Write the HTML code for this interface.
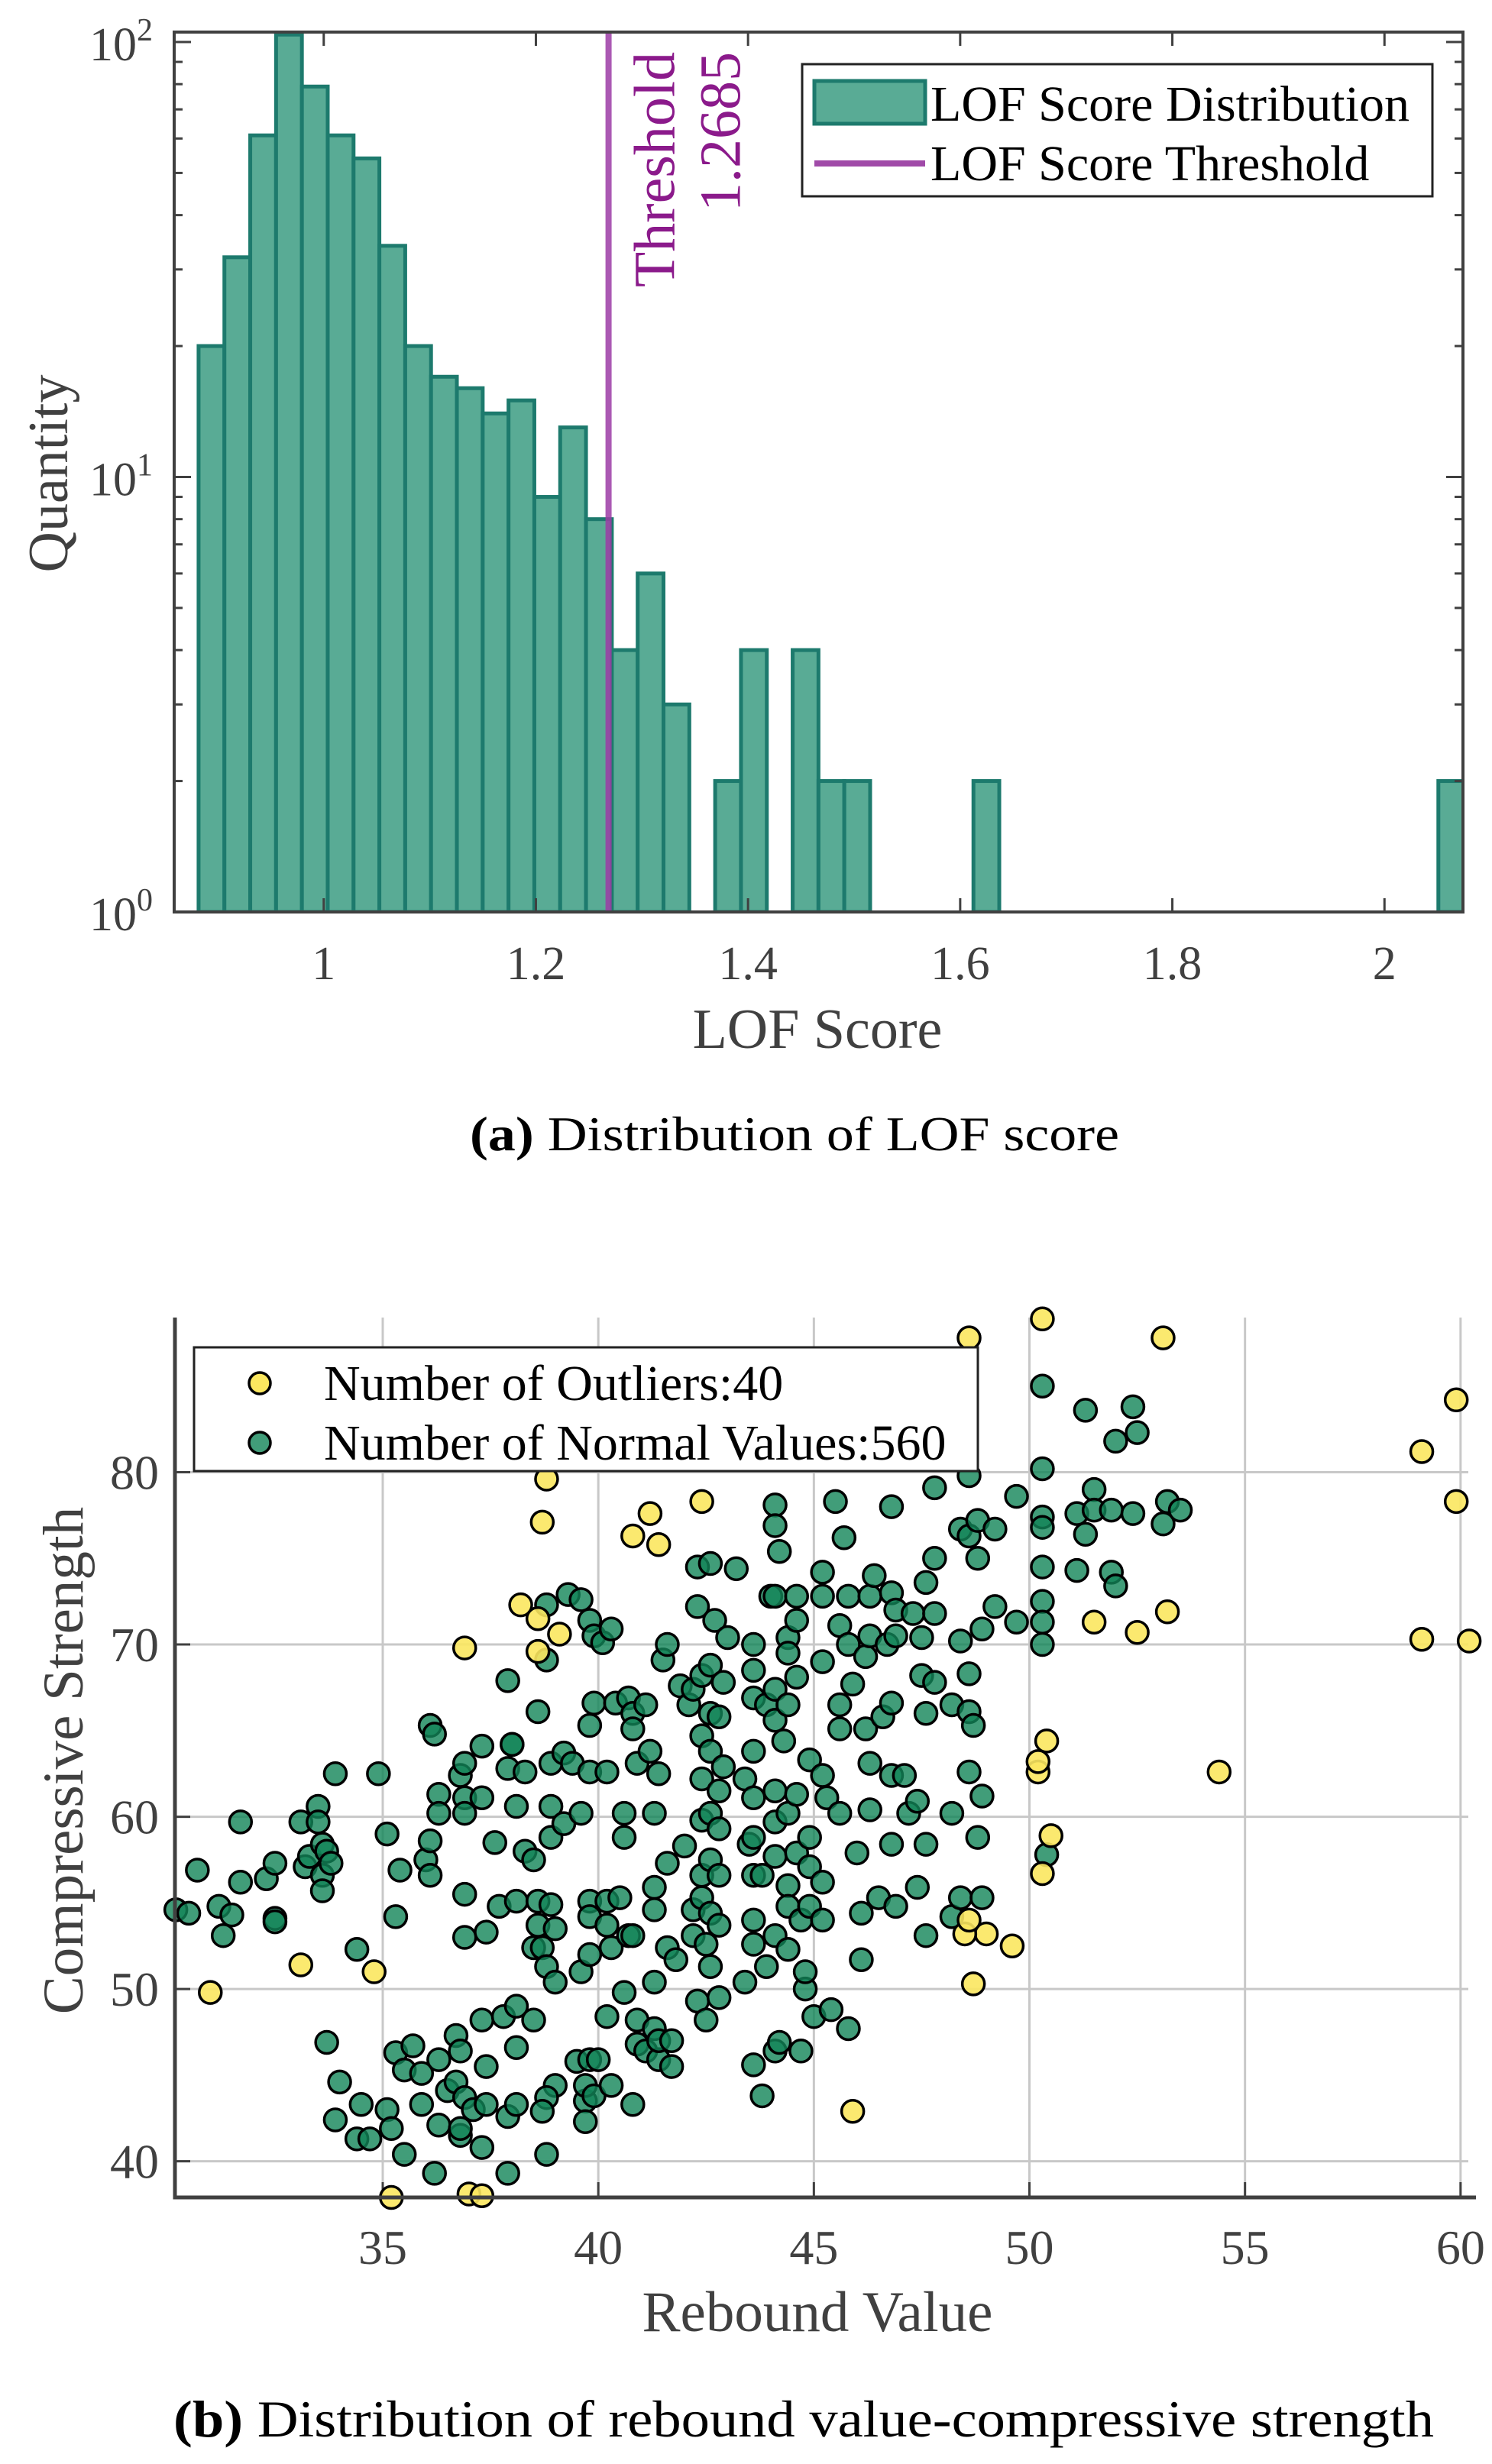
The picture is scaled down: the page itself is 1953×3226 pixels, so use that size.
<!DOCTYPE html>
<html><head><meta charset="utf-8">
<style>
html,body{margin:0;padding:0;background:#fff;}
svg{display:block;font-family:"Liberation Serif",serif;}
</style></head>
<body>
<svg id="root" width="1953" height="3226" viewBox="0 0 1953 3226" xmlns="http://www.w3.org/2000/svg">
  <g id="chartA"></g>
  <text x="1040" y="1506" font-size="64" text-anchor="middle" fill="#000" textLength="850" lengthAdjust="spacingAndGlyphs"><tspan font-weight="bold">(a)</tspan> Distribution of LOF score</text>
  <g id="chartB"></g>
  <text x="1052" y="3190" font-size="68" text-anchor="middle" fill="#000" textLength="1650" lengthAdjust="spacingAndGlyphs"><tspan font-weight="bold">(b)</tspan> Distribution of rebound value-compressive strength</text>
</svg>
<script>
// ---------- Chart A data ----------
const binStart = 0.882;
const binWidth = 0.02435;
const binCounts = [20,32,61,104,79,61,54,34,20,17,16,14,15,9,13,8,4,6,3,1,2,4,0,4,2,2,1,1,0,0,2,1,1,0,0,0,0,0,0,0,0,0,0,0,1,0,0,0,2];
const thresholdValue = 1.2685;
const xTicksA = [1,1.2,1.4,1.6,1.8,2];
const xTickLabelsA = ["1","1.2","1.4","1.6","1.8","2"];
const yDecadesA = [0,1,2];

// ---------- Chart B data ----------
const outlierX = [50.3,48.6,53.1,59.9,59.1,59.9,59.1,60.2,38.8,38.7,42.4,41.2,40.8,41.4,38.2,38.6,39.1,38.6,36.9,51.5,52.5,53.2,54.4,50.2,50.2,50.4,50.5,50.3,49.0,49.6,48.7,48.5,33.1,34.8,31.0,45.9,35.2,37.0,37.3,48.6];
const outlierY = [88.9,87.8,87.8,84.2,81.2,78.3,70.3,70.2,79.6,77.1,78.3,77.6,76.3,75.8,72.3,71.5,70.6,69.6,69.8,71.3,70.7,71.9,62.6,62.6,63.2,64.4,58.9,56.7,53.2,52.5,50.3,53.2,51.4,51.0,49.8,42.9,37.9,38.1,38.0,54.0];
const normalX = [30.2,30.5,30.7,31.2,31.3,31.5,31.7,31.7,32.3,32.5,32.5,32.5,33.1,33.2,33.3,33.5,33.5,33.6,33.7,33.6,33.6,33.8,33.9,33.7,34.0,34.4,33.9,34.5,34.4,34.7,34.9,35.1,35.3,35.4,35.1,35.2,35.3,35.5,35.5,35.7,35.9,35.9,36.1,36.2,36.0,36.1,36.1,36.3,36.3,36.3,36.3,36.2,36.5,36.7,36.8,36.9,36.9,36.9,36.9,36.9,36.7,36.8,36.9,36.8,36.8,37.1,37.3,37.3,37.3,37.4,37.4,37.4,37.3,37.6,37.7,37.8,37.9,38.0,37.9,37.9,37.9,38.0,38.1,38.1,38.1,38.1,38.1,38.3,38.3,38.5,38.5,38.5,38.6,38.6,38.6,38.7,38.8,38.8,38.8,38.8,38.9,38.9,38.9,38.9,39.0,39.0,39.0,38.8,38.7,39.2,39.2,39.3,39.4,39.6,39.5,39.6,39.6,39.7,39.7,39.7,39.8,39.8,39.8,39.8,39.8,39.8,39.8,39.9,39.9,39.9,40.0,40.1,40.2,40.2,40.2,40.3,40.2,40.3,40.4,40.3,40.5,40.6,40.6,40.6,40.7,40.7,40.8,40.8,40.8,40.8,40.9,40.9,40.9,41.1,41.1,41.2,41.3,41.3,41.3,41.3,41.3,41.4,41.4,41.4,41.5,41.6,41.6,41.6,41.7,41.7,41.8,41.9,42.0,42.1,42.2,42.2,42.2,42.3,42.3,42.3,42.4,42.4,42.4,42.4,42.4,42.4,42.5,42.5,42.6,42.6,42.6,42.6,42.6,42.6,42.6,42.6,42.7,42.8,42.8,42.8,42.8,42.8,42.8,42.9,42.9,43.0,43.2,43.4,43.4,43.5,43.6,43.6,43.6,43.6,43.6,43.6,43.6,43.6,43.6,43.6,43.8,43.8,43.9,43.9,44.0,44.1,44.1,44.2,44.1,44.1,44.1,44.1,44.1,44.1,44.1,44.1,44.2,44.3,44.4,44.4,44.4,44.4,44.4,44.4,44.4,44.6,44.6,44.6,44.6,44.6,44.7,44.7,44.8,44.8,44.9,44.9,44.9,44.9,45.0,45.2,45.2,45.2,45.2,45.2,45.2,45.3,45.4,45.5,45.6,45.6,45.6,45.6,45.7,45.8,45.8,45.8,45.9,46.0,46.1,46.1,46.2,46.2,46.3,46.3,46.3,46.3,46.4,46.5,46.6,46.7,46.8,46.8,46.8,46.8,46.8,46.9,46.9,46.9,47.1,47.2,47.3,47.4,47.4,47.5,47.5,47.6,47.6,47.6,47.6,47.8,47.8,47.8,47.8,48.2,48.2,48.2,48.4,48.4,48.4,48.6,48.6,48.6,48.6,48.6,48.7,48.8,48.8,48.8,48.9,48.9,48.9,49.2,49.2,49.7,49.7,50.3,50.3,50.3,50.3,50.3,50.3,50.3,50.3,50.4,51.1,51.1,51.3,51.3,51.5,51.5,51.9,51.9,52.0,52.0,52.4,52.4,52.5,53.1,53.2,53.5];
const normalY = [54.6,54.4,56.9,54.8,53.1,54.3,59.7,56.2,56.4,57.3,54.1,53.9,59.7,57.1,57.7,60.6,59.7,58.4,58.0,56.6,55.7,57.3,62.5,46.9,44.6,52.3,42.4,43.3,41.3,41.3,62.5,59.0,54.2,56.9,43.0,41.9,46.3,45.3,40.4,46.7,43.3,45.1,65.3,64.8,57.5,56.6,58.6,61.3,60.2,45.9,42.1,39.3,44.1,44.6,62.4,63.1,61.1,60.2,55.5,53.0,47.3,46.4,43.7,41.5,41.9,43.0,64.1,61.1,48.2,53.3,45.5,43.3,40.8,58.5,54.8,48.4,67.9,64.2,62.8,42.6,39.3,64.2,60.6,55.1,49.0,46.6,43.3,62.6,58.0,57.5,52.4,48.2,66.1,55.1,53.7,52.4,69.1,51.3,40.4,72.3,63.1,60.6,58.8,54.9,53.5,50.4,44.4,43.7,42.9,63.7,59.6,72.9,63.1,72.6,45.8,60.2,51.0,43.5,42.3,44.4,71.4,65.3,62.6,55.1,54.2,52.0,45.9,70.5,66.6,43.8,45.9,70.1,62.6,55.1,53.7,70.9,48.4,44.4,66.6,52.4,55.3,49.8,60.2,58.8,66.9,53.1,66.0,65.1,53.1,43.3,63.1,48.2,46.8,66.5,46.4,63.8,60.2,55.9,54.6,50.4,47.7,45.9,62.5,47.0,69.1,70.0,57.3,52.4,47.0,45.5,51.7,67.6,58.3,66.5,67.4,54.6,53.1,49.3,74.5,72.2,68.2,64.7,62.2,59.8,56.6,55.3,48.2,52.6,68.8,66.0,63.8,60.2,57.5,54.4,51.3,74.7,71.4,65.8,61.5,59.3,56.6,53.7,49.5,67.8,62.9,70.4,74.4,50.4,62.2,58.4,70.0,68.5,66.9,63.8,61.1,58.8,56.6,54.0,52.6,45.6,43.8,56.6,66.5,51.3,72.8,78.1,76.9,75.4,72.8,67.4,65.6,61.5,59.7,57.7,53.1,46.4,46.9,64.4,66.5,70.4,69.5,60.2,56.0,54.8,52.3,72.8,71.4,68.1,61.3,57.9,46.4,54.0,50.0,51.0,63.3,58.8,57.1,54.8,48.4,74.2,72.8,69.0,62.4,56.2,54.0,61.1,48.8,78.3,71.1,66.5,65.1,60.2,76.2,72.8,70.0,47.7,67.7,57.9,54.4,51.7,69.3,65.1,72.8,70.5,63.1,60.4,74.0,55.3,65.8,70.0,73.0,66.6,62.4,58.4,78.0,70.5,72.0,54.8,62.4,60.2,71.8,55.9,60.9,70.4,68.2,73.6,66.0,58.4,53.1,71.8,75.0,67.8,79.1,66.5,60.2,54.2,76.7,70.2,55.3,76.3,68.3,66.1,62.6,79.8,65.3,77.2,75.0,58.8,61.2,55.3,70.9,76.7,72.2,71.3,78.6,85.0,80.2,77.4,76.8,74.5,72.5,71.3,70.0,57.8,77.6,74.3,83.6,76.4,79.0,77.8,77.8,74.2,81.8,73.4,83.8,77.6,82.3,77.0,78.3,77.8];
const xTicksB = [35,40,45,50,55,60];
const yTicksB = [40,50,60,70,80];
const legendLabelsB = ["Number of Outliers:40","Number of Normal Values:560"];

const NS = "http://www.w3.org/2000/svg";
function mk(tag, attrs, parent){
  const e = document.createElementNS(NS, tag);
  for (const k in attrs) e.setAttribute(k, attrs[k]);
  parent.appendChild(e);
  return e;
}
const gray = "#404040";

// ================= Chart A =================
(function(){
  const g = document.getElementById("chartA");
  const L=228, R=1915, T=42, B=1194;
  const xmin=0.859, xmax=2.074;
  const ymin=0, ymax=2+13/570;
  const sx = v => L + (v-xmin)/(xmax-xmin)*(R-L);
  const sy = c => B - (Math.log10(Math.max(c,1))-ymin)/(ymax-ymin)*(B-T);

  const clip = mk("clipPath",{id:"clipA"},g);
  mk("rect",{x:L,y:T,width:R-L,height:B-T},clip);
  const bars = mk("g",{"clip-path":"url(#clipA)"},g);
  
  
  binCounts.forEach((c,i)=>{
    if (c<=0) return;
    const x0=sx(binStart+i*binWidth), x1=sx(binStart+(i+1)*binWidth);
    const r = mk("rect",{x:x0,y:sy(c),width:x1-x0,height:B-sy(c),fill:"#59ab95",stroke:"#1d7a6d","stroke-width":5},bars);
    
    
  });
  // threshold
  const tx = sx(thresholdValue);
  const tl = mk("line",{x1:tx,y1:T,x2:tx,y2:B,stroke:"#9c3ca6","stroke-opacity":0.85,"stroke-width":8},g);
  
  
  const t1 = mk("text",{x:0,y:0,"font-size":76,fill:"#8b1a8b","text-anchor":"end",transform:`translate(${tx+86},68) rotate(-90)`},g);
  t1.textContent="Threshold";
  
  
  const t2 = mk("text",{x:0,y:0,"font-size":76,fill:"#8b1a8b","text-anchor":"end",transform:`translate(${tx+172},68) rotate(-90)`},g);
  t2.textContent=thresholdValue.toFixed(4);
  
  
  // axes box
  const box = mk("rect",{x:L,y:T,width:R-L,height:B-T,fill:"none",stroke:gray,"stroke-width":4},g);
  
  
  // x ticks
  xTicksA.forEach((v,i)=>{
    const x=sx(v);
    mk("line",{x1:x,y1:B,x2:x,y2:B-18,stroke:gray,"stroke-width":3},g);
    mk("line",{x1:x,y1:T,x2:x,y2:T+18,stroke:gray,"stroke-width":3},g);
    const t=mk("text",{x:x,y:1282,"font-size":62,fill:gray,"text-anchor":"middle"},g);
    t.textContent=xTickLabelsA[i];
    
    
  });
  // y ticks (log)
  yDecadesA.forEach(d=>{
    const y=sy(Math.pow(10,d));
    mk("line",{x1:L,y1:y,x2:L+22,y2:y,stroke:gray,"stroke-width":3},g);
    mk("line",{x1:R,y1:y,x2:R-22,y2:y,stroke:gray,"stroke-width":3},g);
    const t=mk("text",{x:200,y:y+24,"font-size":62,fill:gray,"text-anchor":"end"},g);
    t.innerHTML='10<tspan dy="-26" font-size="42">'+d+'</tspan>';
    
    
    if (d<2) for(let m=2;m<=9;m++){
      const ym=sy(m*Math.pow(10,d));
      mk("line",{x1:L,y1:ym,x2:L+11,y2:ym,stroke:gray,"stroke-width":3},g);
      mk("line",{x1:R,y1:ym,x2:R-11,y2:ym,stroke:gray,"stroke-width":3},g);
    }
  });
  const xl=mk("text",{x:1070,y:1372,"font-size":74,fill:gray,"text-anchor":"middle"},g);
  xl.textContent="LOF Score";
  
  
  const yl=mk("text",{x:0,y:0,"font-size":74,fill:gray,"text-anchor":"middle",transform:"translate(88,620) rotate(-90)"},g);
  yl.textContent="Quantity";
  
  
  // legend
  const lg = mk("g",{},g);
  
  
  mk("rect",{x:1050,y:84,width:825,height:173,fill:"#fff",stroke:"#222","stroke-width":3},lg);
  const p=mk("rect",{x:1066,y:106,width:145,height:56,fill:"#59ab95",stroke:"#1d7a6d","stroke-width":5},lg);
  
  
  const lt1=mk("text",{x:1218,y:158,"font-size":66,fill:"#000"},lg);
  lt1.textContent="LOF Score Distribution";
  
  
  const ll=mk("line",{x1:1066,y1:214,x2:1211,y2:214,stroke:"#a04aa8","stroke-width":8},lg);
  
  
  const lt2=mk("text",{x:1218,y:236,"font-size":66,fill:"#000"},lg);
  lt2.textContent="LOF Score Threshold";
  
  
})();

// ================= Chart B =================
(function(){
  const g = document.getElementById("chartB");
  const L=229, R=1922, T=1725, B=2877;
  const xmin=30.18, xmax=60.18, ymin=37.9, ymax=88.98;
  const sx = v => L + (v-xmin)/(xmax-xmin)*(R-L);
  const sy = v => B - (v-ymin)/(ymax-ymin)*(B-T);
  // grid
  xTicksB.forEach(v=>{
    const x=sx(v);
    const gl=mk("line",{x1:x,y1:T,x2:x,y2:B,stroke:"#c8c8c8","stroke-width":3},g);
    
    
    mk("line",{x1:x,y1:B,x2:x,y2:B-20,stroke:gray,"stroke-width":3},g);
    const t=mk("text",{x:x,y:2964,"font-size":64,fill:gray,"text-anchor":"middle"},g);
    t.textContent=String(v);
    
    
  });
  yTicksB.forEach(v=>{
    const y=sy(v);
    const gl=mk("line",{x1:L,y1:y,x2:R,y2:y,stroke:"#c8c8c8","stroke-width":3},g);
    
    
    mk("line",{x1:L,y1:y,x2:L+20,y2:y,stroke:gray,"stroke-width":3},g);
    const t=mk("text",{x:208,y:y+22,"font-size":64,fill:gray,"text-anchor":"end"},g);
    t.textContent=String(v);
    
    
  });
  const pts = mk("g",{},g);
  
  
  normalX.forEach((x,i)=>{
    const c=mk("circle",{cx:sx(x),cy:sy(normalY[i]),r:14.5,fill:"#128458","fill-opacity":0.8,stroke:"#000","stroke-width":3.5},pts);
    
    
  });
  outlierX.forEach((x,i)=>{
    const c=mk("circle",{cx:sx(x),cy:sy(outlierY[i]),r:14.5,fill:"#fbe75f","fill-opacity":0.9,stroke:"#000","stroke-width":3.5},pts);
    
    
  });
  // axes
  const ax=mk("path",{d:`M${L},${T} L${L},${B} L${R+10},${B}`,fill:"none",stroke:gray,"stroke-width":5},g);
  
  
  const xl=mk("text",{x:1070,y:3052,"font-size":75,fill:gray,"text-anchor":"middle"},g);
  xl.textContent="Rebound Value";
  
  
  const yl=mk("text",{x:0,y:0,"font-size":75,fill:gray,"text-anchor":"middle",transform:"translate(108,2305) rotate(-90)"},g);
  yl.textContent="Compressive Strength";
  
  
  // legend
  const lg=mk("g",{},g);
  
  
  mk("rect",{x:254,y:1764,width:1026,height:162,fill:"#fff",stroke:"#222","stroke-width":3},lg);
  const m1=mk("circle",{cx:340,cy:1811,r:14,fill:"#fbe75f",stroke:"#000","stroke-width":3.5},lg);
  
  
  const t1=mk("text",{x:424,y:1833,"font-size":66,fill:"#000"},lg);
  t1.textContent=legendLabelsB[0];
  
  
  const m2=mk("circle",{cx:340,cy:1889,r:14,fill:"#128458","fill-opacity":0.8,stroke:"#000","stroke-width":3.5},lg);
  
  
  const t2=mk("text",{x:424,y:1911,"font-size":66,fill:"#000"},lg);
  t2.textContent=legendLabelsB[1];
  
  
})();
</script>
</body></html>
